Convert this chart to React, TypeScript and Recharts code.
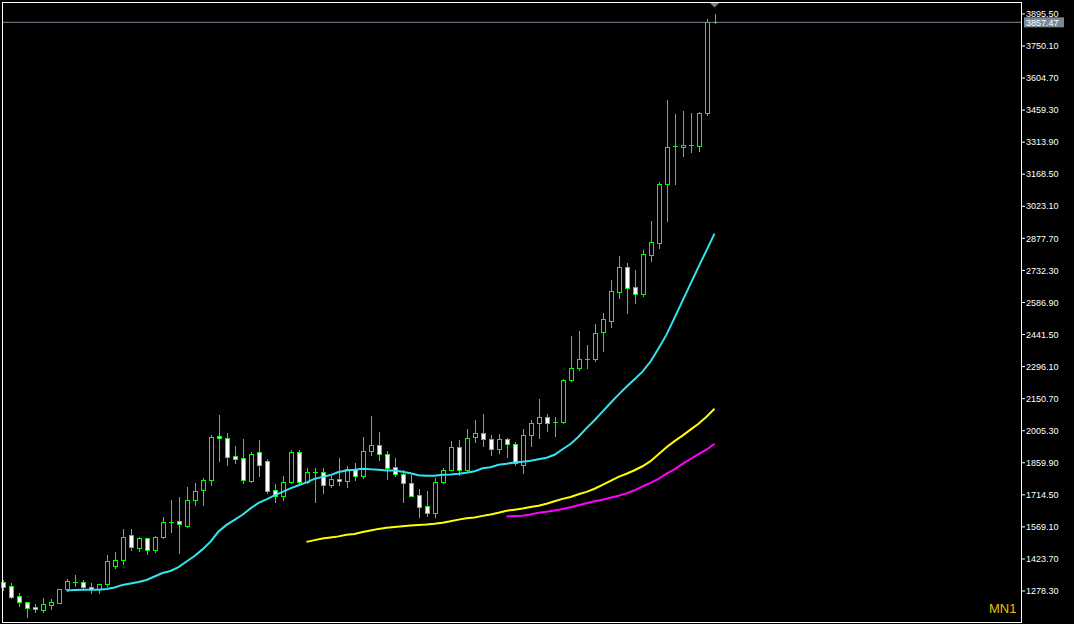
import React from 'react';
import { ComposedChart, Bar, Line, XAxis, YAxis, ReferenceLine, ReferenceDot } from 'recharts';

// monthly bars, May 2018 .. Oct 2025
const months = [
  '2018.05', '2018.06', '2018.07', '2018.08', '2018.09', '2018.10', '2018.11', '2018.12',
  '2019.01', '2019.02', '2019.03', '2019.04', '2019.05', '2019.06', '2019.07', '2019.08', '2019.09', '2019.10', '2019.11', '2019.12',
  '2020.01', '2020.02', '2020.03', '2020.04', '2020.05', '2020.06', '2020.07', '2020.08', '2020.09', '2020.10', '2020.11', '2020.12',
  '2021.01', '2021.02', '2021.03', '2021.04', '2021.05', '2021.06', '2021.07', '2021.08', '2021.09', '2021.10', '2021.11', '2021.12',
  '2022.01', '2022.02', '2022.03', '2022.04', '2022.05', '2022.06', '2022.07', '2022.08', '2022.09', '2022.10', '2022.11', '2022.12',
  '2023.01', '2023.02', '2023.03', '2023.04', '2023.05', '2023.06', '2023.07', '2023.08', '2023.09', '2023.10', '2023.11', '2023.12',
  '2024.01', '2024.02', '2024.03', '2024.04', '2024.05', '2024.06', '2024.07', '2024.08', '2024.09', '2024.10', '2024.11', '2024.12',
  '2025.01', '2025.02', '2025.03', '2025.04', '2025.05', '2025.06', '2025.07', '2025.08', '2025.09', '2025.10',
];

const opens = [
  1320, 1301, 1256, 1227, 1204, 1193, 1216, 1225,
  1286, 1321, 1318, 1295, 1286, 1309, 1390, 1418, 1531, 1475, 1518, 1466,
  1522, 1590, 1595, 1575, 1689, 1738, 1780, 1981, 1972, 1890, 1881, 1778,
  1909, 1868, 1737, 1707, 1772, 1909, 1772, 1815, 1818, 1757, 1786, 1775,
  1832, 1798, 1911, 1941, 1899, 1840, 1810, 1768, 1713, 1665, 1634, 1772,
  1828, 1931, 1828, 1975, 1995, 1968, 1922, 1968, 1945, 1850, 1984, 2040,
  2066, 2040, 2043, 2237, 2290, 2332, 2331, 2452, 2502, 2635, 2749, 2658,
  2626, 2802, 2858, 3126, 3290, 3293, 3302, 3295, 3447, 3858,
];
const highs = [
  1326, 1313, 1268, 1229, 1218, 1246, 1240, 1288,
  1333, 1351, 1328, 1313, 1312, 1442, 1455, 1560, 1560, 1525, 1520, 1528,
  1613, 1692, 1704, 1749, 1768, 1790, 1985, 2078, 1995, 1937, 1969, 1909,
  1964, 1878, 1764, 1801, 1919, 1919, 1836, 1836, 1836, 1801, 1881, 1843,
  1859, 1977, 2073, 2001, 1911, 1881, 1825, 1805, 1742, 1733, 1790, 1836,
  1957, 1964, 2014, 2055, 2083, 1987, 1992, 1972, 1953, 2013, 2055, 2148,
  2083, 2066, 2240, 2437, 2457, 2392, 2487, 2537, 2691, 2797, 2767, 2732,
  2823, 2955, 3131, 3504, 3441, 3455, 3446, 3449, 3873, 3896,
];
const lows = [
  1282, 1248, 1210, 1161, 1183, 1184, 1198, 1222,
  1280, 1302, 1286, 1268, 1268, 1300, 1384, 1401, 1465, 1461, 1448, 1456,
  1518, 1548, 1452, 1570, 1670, 1670, 1757, 1866, 1851, 1861, 1768, 1772,
  1801, 1722, 1680, 1690, 1766, 1760, 1768, 1680, 1725, 1750, 1758, 1750,
  1780, 1790, 1893, 1874, 1787, 1801, 1684, 1707, 1616, 1619, 1616, 1768,
  1825, 1805, 1820, 1952, 1934, 1893, 1904, 1885, 1851, 1813, 1934, 1972,
  2002, 1983, 2038, 2229, 2279, 2290, 2320, 2366, 2475, 2605, 2540, 2585,
  2615, 2775, 2833, 2956, 3122, 3252, 3270, 3276, 3435, 3853,
];
const closes = [
  1298, 1252, 1227, 1202, 1195, 1218, 1227, 1286,
  1324, 1318, 1295, 1286, 1309, 1415, 1418, 1522, 1477, 1518, 1466, 1522,
  1590, 1588, 1580, 1690, 1731, 1781, 1977, 1972, 1888, 1879, 1780, 1901,
  1852, 1734, 1710, 1772, 1909, 1772, 1818, 1818, 1757, 1786, 1777, 1832,
  1798, 1914, 1941, 1899, 1838, 1810, 1768, 1710, 1661, 1634, 1772, 1828,
  1931, 1828, 1972, 1995, 1968, 1922, 1968, 1945, 1859, 1987, 2040, 2066,
  2040, 2044, 2237, 2290, 2332, 2330, 2449, 2510, 2641, 2749, 2654, 2626,
  2805, 2863, 3126, 3290, 3295, 3302, 3295, 3446, 3858, 3857.47,
];

// moving averages as drawn (cyan / yellow / magenta)
const maCyan = [
  null, null, null, null, null, null, null, null,
  1280, 1283, 1284, 1284, 1284, 1287, 1294, 1306, 1312, 1319,
  1328, 1344, 1360, 1369, 1387, 1412, 1437, 1467, 1502, 1548,
  1578, 1601, 1624, 1653, 1678, 1694, 1712, 1728, 1744, 1758,
  1771, 1787, 1796, 1804, 1818, 1825, 1828, 1833, 1830, 1828,
  1825, 1825, 1819, 1812, 1803, 1801, 1801, 1805, 1807, 1810,
  1815, 1821, 1835, 1840, 1851, 1855, 1861, 1864, 1869, 1876,
  1883, 1896, 1921, 1945, 1978, 2017, 2053, 2092, 2131, 2169,
  2205, 2239, 2273, 2319, 2378, 2441, 2517, 2594, 2671, 2748,
  2823, 2899,
];
const maYellow = [
  null, null, null, null, null, null, null, null, null, null,
  null, null, null, null, null, null, null, null, null, null,
  null, null, null, null, null, null, null, null, null, null,
  null, null, null, null, null, null, null, null,
  1501, 1509, 1516, 1521, 1526, 1533, 1537, 1546, 1553, 1560,
  1565, 1569, 1572, 1575, 1578, 1580, 1583, 1588, 1595, 1602,
  1608, 1612, 1619, 1625, 1633, 1642, 1647, 1652, 1659, 1665,
  1674, 1685, 1696, 1705, 1717, 1728, 1742, 1760, 1778, 1796,
  1810, 1826, 1844, 1867, 1898, 1930, 1958, 1983, 2010, 2037,
  2069, 2105,
];
const maMagenta = [
  null, null, null, null, null, null, null, null, null, null,
  null, null, null, null, null, null, null, null, null, null,
  null, null, null, null, null, null, null, null, null, null,
  null, null, null, null, null, null, null, null, null, null,
  null, null, null, null, null, null, null, null, null, null,
  null, null, null, null, null, null, null, null, null, null,
  null, null, null,
  1616, 1618, 1620, 1625, 1633, 1638, 1643, 1650, 1658, 1667,
  1676, 1685, 1692, 1701, 1710, 1721, 1735, 1753, 1769, 1787,
  1811, 1830, 1855, 1877, 1899, 1919, 1946,
];

const priceTicks = [
  1278.3, 1423.7, 1569.1, 1714.5, 1859.9, 2005.3, 2150.7, 2296.1, 2441.5, 2586.9,
  2732.3, 2877.7, 3023.1, 3168.5, 3313.9, 3459.3, 3604.7, 3750.1, 3895.5,
];
const lastPrice = 3857.47;
const priceMin = 1137.7;
const priceMax = 3949.6;

const data = months.map((m, i) => ({
  month: m,
  open: opens[i],
  high: highs[i],
  low: lows[i],
  close: closes[i],
  range: [lows[i], highs[i]],
  maCyan: maCyan[i],
  maYellow: maYellow[i],
  maMagenta: maMagenta[i],
}));

const GREEN = '#00ff00';

// wick + body drawn as filled pixel rects so they stay sharp
const Candle = (props: any) => {
  const { x, y, width, height, payload } = props;
  const { open, high, low, close } = payload;
  const top0 = Math.min(y, y + height);
  const h = Math.abs(height);
  const k = high === low ? 0 : h / (high - low);
  const py = (v: number) => top0 + (high - v) * k;
  const px = Math.floor(x + width / 2);
  const wTop = Math.round(top0);
  const wBot = Math.round(top0 + h);
  const bTop = Math.round(py(Math.max(open, close)));
  const bBot = Math.round(py(Math.min(open, close)));
  const up = close >= open;
  const bh = bBot - bTop;
  return (
    <g shapeRendering="crispEdges">
      <rect x={px} y={wTop} width={1} height={wBot - wTop + 1} fill={GREEN} />
      {bh <= 1 ? (
        <rect x={px - 2} y={bTop} width={5} height={1} fill={GREEN} />
      ) : (
        <>
          <rect x={px - 2} y={bTop} width={5} height={bh + 1} fill={GREEN} />
          <rect x={px - 1} y={bTop + 1} width={3} height={bh - 1} fill={up ? '#000000' : '#ffffff'} />
        </>
      )}
    </g>
  );
};

const PriceTag = (props: any) => {
  const vb = props.viewBox || {};
  const x = (vb.x || 0) + (vb.width || 0);
  const y = vb.y || 0;
  return (
    <g>
      <rect x={x + 3} y={y - 5} width={40} height={10} fill="#778899" />
      <text x={x + 5} y={y + 3.5} fill="#ffffff" fontSize={9} fontFamily="'Liberation Sans', Arial, sans-serif">
        {lastPrice.toFixed(2)}
      </text>
    </g>
  );
};

const ShiftMark = (props: any) => {
  const { cx, cy } = props;
  return <path d={`M${cx - 4.5},${cy + 1} L${cx + 4.5},${cy + 1} L${cx},${cy + 5.5} Z`} fill="#808080" />;
};

export default function App() {
  return (
    <div style={{ position: 'relative', width: 1074, height: 624, background: '#000', overflow: 'hidden' }}>
      <style>{'body{margin:0;background:#000}'}</style>
      <ComposedChart width={1074} height={624} data={data} margin={{ top: 2, right: 0, bottom: 2, left: 2 }}>
        <XAxis dataKey="month" hide padding={{ left: -3.5, right: 302.5 }} />
        <YAxis
          orientation="right"
          width={53}
          domain={[priceMin, priceMax]}
          allowDataOverflow
          ticks={priceTicks}
          interval={0}
          tickFormatter={(v: number) => v.toFixed(2)}
          axisLine={false}
          tickLine={{ stroke: '#ffffff' }}
          tickSize={4}
          tickMargin={1}
          tick={{ fill: '#ffffff', fontSize: 9, fontFamily: "'Liberation Sans', Arial, sans-serif" }}
        />
        <Bar dataKey="range" barSize={5} shape={<Candle />} isAnimationActive={false} />
        <Line dataKey="maCyan" stroke="#33e4f0" strokeWidth={2} dot={false} activeDot={false} isAnimationActive={false} />
        <Line dataKey="maYellow" stroke="#ffff00" strokeWidth={2} dot={false} activeDot={false} isAnimationActive={false} />
        <Line dataKey="maMagenta" stroke="#ff00ff" strokeWidth={2} dot={false} activeDot={false} isAnimationActive={false} />
        <ReferenceLine y={lastPrice} stroke="#778899" strokeWidth={1} ifOverflow="visible" label={(p: any) => <PriceTag {...p} />} />
        <ReferenceDot x={months[months.length - 1]} y={priceMax} r={0} ifOverflow="visible" shape={(p: any) => <ShiftMark {...p} />} />
      </ComposedChart>
      <div
        style={{
          position: 'absolute', left: 2, top: 2, width: 1020, height: 621,
          boxSizing: 'border-box', border: '1px solid #ffffff', pointerEvents: 'none',
        }}
      />
      <div
        style={{
          position: 'absolute', left: 989, top: 601, fontSize: 13, lineHeight: '16px',
          fontFamily: "'Liberation Sans', Arial, sans-serif", color: '#e8c000',
        }}
      >
        MN1
      </div>
    </div>
  );
}
